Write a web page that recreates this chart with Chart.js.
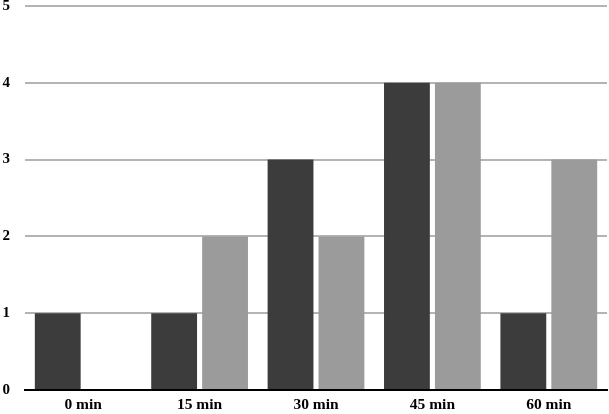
<!DOCTYPE html>
<html>
<head>
<meta charset="utf-8">
<script src="https://cdn.jsdelivr.net/npm/chart.js@4"></script>
<style>
  html, body { margin: 0; padding: 0; background: #fff; }
  #wrap { width: 609px; height: 414px; }
</style>
</head>
<body>
<div id="wrap"><canvas id="myChart"></canvas></div>
<script>
const categories = ["0 min", "15 min", "30 min", "45 min", "60 min"];
const darkValues = [1, 1, 3, 4, 1];
const lightValues = [0, 2, 2, 4, 3];
const yTicks = [0, 1, 2, 3, 4, 5];

const ctx = document.getElementById("myChart").getContext("2d");

const chart = new Chart(ctx, {
  type: "bar",
  data: {
    labels: categories,
    datasets: [
      {
        data: darkValues,
        backgroundColor: "#3c3c3c",
        barPercentage: 0.9,
        categoryPercentage: 0.875,
      },
      {
        data: lightValues,
        backgroundColor: "#9b9b9b",
        barPercentage: 0.9,
        categoryPercentage: 0.875,
      },
    ],
  },
  options: {
    responsive: true,
    maintainAspectRatio: false,
    animation: false,
    layout: { padding: { top: 6, right: 2, left: 0, bottom: 0 } },
    plugins: {
      legend: { display: false },
      tooltip: { enabled: false },
    },
    scales: {
      x: {
        grid: { display: false, drawTicks: false },
        border: { display: true, color: "#000", width: 2 },
        ticks: {
          color: "#000",
          padding: 6,
          font: { family: "Liberation Serif", weight: "bold", size: 15.5 },
        },
        afterFit(scale) {
          scale.height = 24;
          scale.paddingLeft = 0;
          scale.paddingRight = 0;
        },
      },
      y: {
        min: 0,
        max: 5,
        afterBuildTicks(scale) {
          scale.ticks = yTicks.map(v => ({ value: v }));
        },
        grid: { color: "#b4b4b4", lineWidth: 2, drawTicks: false },
        border: { display: false },
        ticks: {
          color: "#000",
          padding: 15,
          font: { family: "Liberation Serif", weight: "bold", size: 15 },
        },
        afterFit(scale) {
          scale.width = 25;
          scale.paddingTop = 0;
          scale.paddingBottom = 0;
        },
      },
    },
  },
});
</script>
</body>
</html>
